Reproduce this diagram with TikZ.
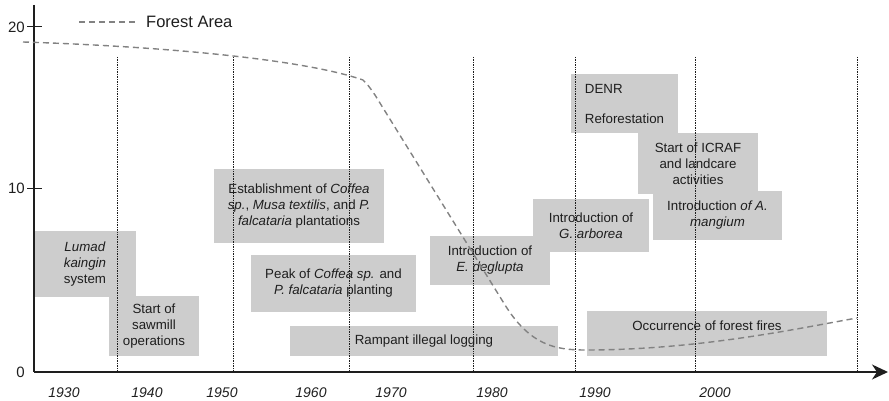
\documentclass[tikz,border=0pt]{standalone}
\usepackage{fontspec}
\setmainfont{Liberation Sans}
\usetikzlibrary{arrows.meta}
\definecolor{boxgray}{RGB}{205,205,205}
\definecolor{curvegray}{RGB}{130,130,130}
\definecolor{ink}{RGB}{30,30,30}
\begin{document}
\begin{tikzpicture}[x=1pt,y=-1pt,
  evbox/.style={fill=boxgray, inner sep=0pt, align=center, text=ink,
    font=\fontsize{13.3}{16}\selectfont},
  decade/.style={densely dotted, line width=0.7pt, ink},
  forest/.style={curvegray, line width=1.4pt, dash pattern=on 6pt off 4pt},
  axislabel/.style={text=ink, font=\fontsize{15}{18}\selectfont}]
\useasboundingbox (0,0) rectangle (889,401);

%Boxes
\node[evbox, minimum width=102, minimum height=66] (lumad) at (85,264)
  {\textit{Lumad}\\\textit{kaingin}\\system};
\node[evbox, minimum width=90, minimum height=60] (sawmill) at (154,326)
  {Start of\\sawmill\\operations};
\node[evbox, minimum width=170, minimum height=74] (estab) at (299,206)
  {Establishment of \textit{Coffea}\\\textit{sp.}, \textit{Musa textilis}, and \textit{P.}\\\textit{falcataria} plantations};
\node[evbox, minimum width=165, minimum height=57] (peak) at (333.5,283.5)
  {Peak of \textit{Coffea sp.} and\\\textit{P. falcataria} planting};
\node[evbox, minimum width=268, minimum height=30] (logging) at (424,341)
  {Rampant illegal logging};
\node[evbox, minimum width=120, minimum height=49] (deglupta) at (490,260.5)
  {Introduction of\\\textit{E. deglupta}};
\node[evbox, minimum width=116, minimum height=53] (arborea) at (591,225.5)
  {Introduction of\\\textit{G. arborea}};
\node[evbox, minimum width=107, minimum height=59, align=left] (denr) at (624.5,103.5)
  {DENR\\[14pt]Reforestation};
\node[evbox, minimum width=120, minimum height=60] (icraf) at (698,163.5)
  {Start of ICRAF\\and landcare\\activities};
\node[evbox, minimum width=129, minimum height=49] (mangium) at (717.5,215.5)
  {Introduction \textit{of A.}\\\textit{mangium}};
\node[evbox, minimum width=240, text height=19.7pt, text depth=25.3pt, anchor=north] (fires) at (707,311)
  {Occurrence of forest fires};

%Decade lines
\foreach \xx in {117,233,349,473,575,695,857}
  \draw[decade] (\xx,57) -- (\xx,372);

%Axes
\draw[line width=1.2pt, ink] (34,5) -- (34,372);
\draw[line width=1.5pt, ink, -{Stealth[length=16pt, width=15pt, inset=5pt]}] (34,372) -- (888,372);

%Ticks
\draw[line width=1pt, ink] (27,27) -- (42,27);
\draw[line width=1pt, ink] (27,188) -- (42,188);
\node[axislabel, anchor=east, inner sep=0pt] (t20) at (25,27) {20};
\node[axislabel, anchor=east, inner sep=0pt] (t10) at (25,188) {10};
\node[axislabel, anchor=east, inner sep=0pt] (t0) at (25,372) {0};
\foreach \yr/\xx in {1930/64,1940/147,1950/222,1960/311,1970/391,1980/492,1990/595,2000/715}
  \node[text=ink, font=\fontsize{14}{16}\selectfont\itshape, inner sep=0pt] (y\yr) at (\xx,393) {\yr};

%Forest area curve
\draw[forest] (23,42) .. controls (150,46) and (300,58) .. (363,80)
  .. controls (368,85) .. (375,95) -- (505,305)
  .. controls (530,345) and (555,350) .. (585,350)
  .. controls (700,350) and (800,328) .. (857,318);

%Legend
\coordinate (legs) at (79,22);
\coordinate (lege) at (138,22);
\draw[forest] (legs) -- (lege);
\node[anchor=west, inner sep=0pt, text=ink, font=\fontsize{16.5}{18}\selectfont] (legend) at (146,22) {Forest Area};
\end{tikzpicture}
\end{document}
